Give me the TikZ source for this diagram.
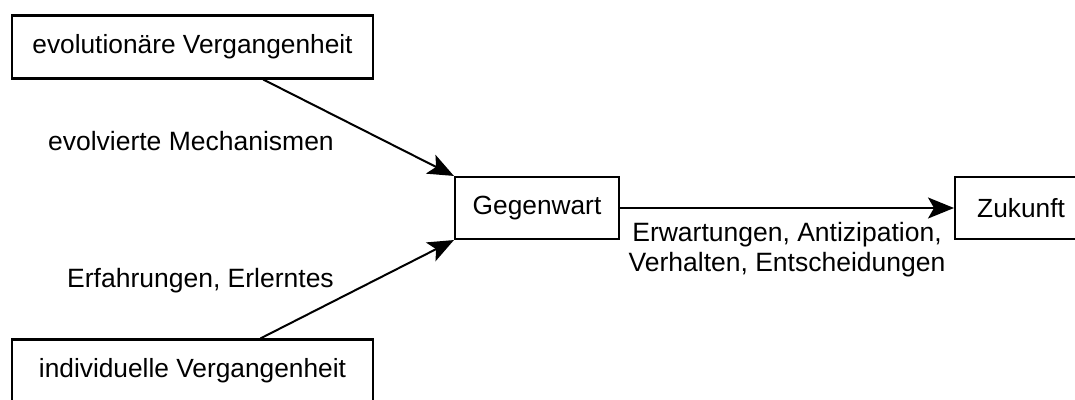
\documentclass[tikz,border=0pt]{standalone}
\usepackage{fontspec}
\setmainfont{Liberation Sans}
\usetikzlibrary{arrows.meta,calc}
\begin{document}
\begin{tikzpicture}[x=1pt,y=-1pt,
  box/.style={draw,line width=2.1pt,minimum height=63pt,inner sep=0pt,font=\fontsize{26.3}{31}\selectfont},
  lbl/.style={font=\fontsize{26.5}{30}\selectfont,inner sep=0pt,align=center},
  arr/.style={line width=2pt,-{Stealth[length=26pt,width=21pt,inset=6pt]}}]
\useasboundingbox (0,0) rectangle (1075,399);
\clip (0,0) rectangle (1075,399);
\node[box,minimum width=361pt] (ev) at (192.5,47) {evolutionäre Vergangenheit};
\node[box,minimum width=361pt] (iv) at (192.5,371) {individuelle Vergangenheit};
\node[box,minimum width=164pt,minimum height=62pt] (g) at (537,208) {Gegenwart};
\node[box,minimum width=170pt,minimum height=62pt,anchor=west] (z) at (954,208) {\hspace*{-38pt}Zukunft};
\coordinate (evo) at ($(ev.south west)!0.695!(ev.south east)$);
\coordinate (ivo) at ($(iv.north west)!0.687!(iv.north east)$);
\draw[arr] (evo) -- (g.north west);
\draw[arr] (ivo) -- (g.south west);
\draw[arr] (g.east) -- (z.west);
\node[lbl,anchor=east] (l1) at (334,141) {evolvierte Mechanismen};
\node[lbl,anchor=east] (l2) at (334,281) {Erfahrungen, Erlerntes};
\node[lbl] (l3) at (787,250) {Erwartungen, Antizipation,\\Verhalten, Entscheidungen};
\end{tikzpicture}
\end{document}
